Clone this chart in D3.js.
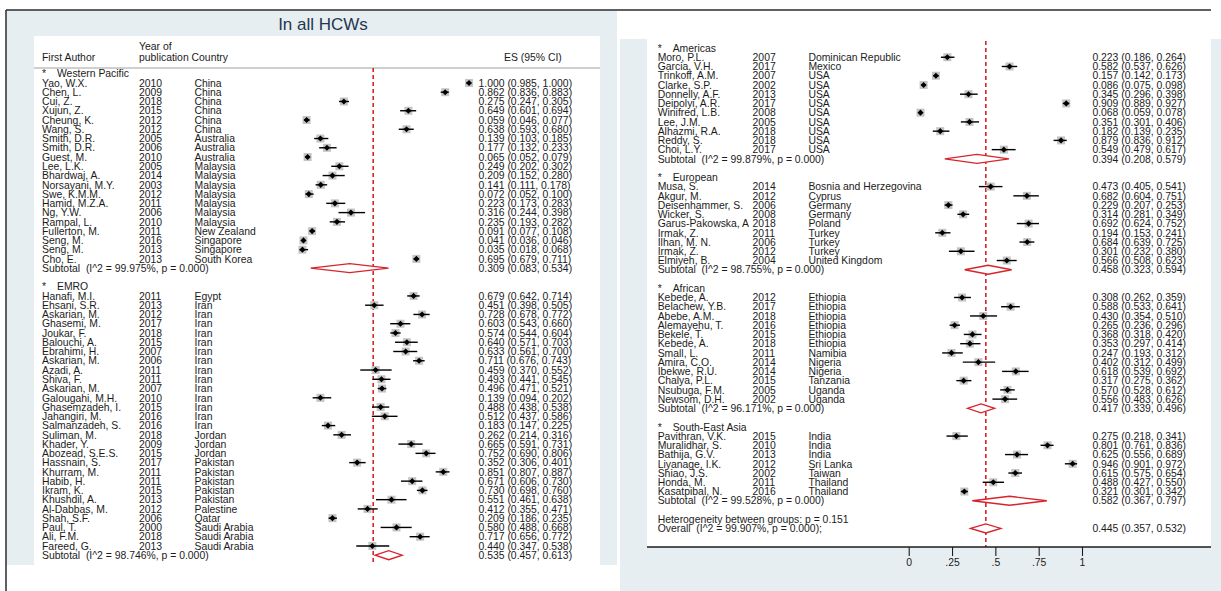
<!DOCTYPE html>
<html>
<head>
<meta charset="utf-8">
<script src="https://cdn.jsdelivr.net/npm/d3@7"></script>
<style>
body { margin: 0; background: #fff; }
svg { display: block; font-family: "Liberation Sans", Arial, sans-serif; }
text { white-space: pre; fill: #1b1b1b; }
</style>
</head>
<body>
<svg id="chart" width="1221" height="591"></svg>
<script>
// each study: [author, year, country, es, lower, upper]
const westernPacific = [
    ["Yao, W.X.", 2010, "China", 1.000, 0.985, 1.000],
    ["Chen, L.", 2009, "China", 0.862, 0.836, 0.883],
    ["Cui, Z.", 2018, "China", 0.275, 0.247, 0.305],
    ["Xujun, Z.", 2015, "China", 0.649, 0.601, 0.694],
    ["Cheung, K.", 2012, "China", 0.059, 0.046, 0.077],
    ["Wang, S.", 2012, "China", 0.638, 0.593, 0.680],
    ["Smith, D.R.", 2005, "Australia", 0.139, 0.103, 0.185],
    ["Smith, D.R.", 2006, "Australia", 0.177, 0.132, 0.233],
    ["Guest, M.", 2010, "Australia", 0.065, 0.052, 0.079],
    ["Lee, L.K.", 2005, "Malaysia", 0.249, 0.202, 0.302],
    ["Bhardwaj, A.", 2014, "Malaysia", 0.209, 0.152, 0.280],
    ["Norsayani, M.Y.", 2003, "Malaysia", 0.141, 0.111, 0.178],
    ["Swe, K.M.M.", 2012, "Malaysia", 0.072, 0.052, 0.100],
    ["Hamid, M.Z.A.", 2011, "Malaysia", 0.223, 0.173, 0.283],
    ["Ng, Y.W.", 2006, "Malaysia", 0.316, 0.244, 0.398],
    ["Rampal, L.", 2010, "Malaysia", 0.235, 0.193, 0.282],
    ["Fullerton, M.", 2011, "New Zealand", 0.091, 0.077, 0.108],
    ["Seng, M.", 2016, "Singapore", 0.041, 0.036, 0.046],
    ["Seng, M.", 2013, "Singapore", 0.035, 0.018, 0.068],
    ["Cho, E.", 2013, "South Korea", 0.695, 0.679, 0.711]
];
const emro = [
    ["Hanafi, M.I.", 2011, "Egypt", 0.679, 0.642, 0.714],
    ["Ehsani, S.R.", 2013, "Iran", 0.451, 0.398, 0.505],
    ["Askarian, M.", 2012, "Iran", 0.728, 0.678, 0.772],
    ["Ghasemi, M.", 2017, "Iran", 0.603, 0.543, 0.660],
    ["Joukar, F.", 2018, "Iran", 0.574, 0.544, 0.604],
    ["Balouchi, A.", 2015, "Iran", 0.640, 0.571, 0.703],
    ["Ebrahimi, H.", 2007, "Iran", 0.633, 0.561, 0.700],
    ["Askarian, M.", 2006, "Iran", 0.711, 0.676, 0.743],
    ["Azadi, A.", 2011, "Iran", 0.459, 0.370, 0.552],
    ["Shiva, F.", 2011, "Iran", 0.493, 0.441, 0.545],
    ["Askarian, M.", 2007, "Iran", 0.496, 0.471, 0.521],
    ["Galougahi, M.H.", 2010, "Iran", 0.139, 0.094, 0.202],
    ["Ghasemzadeh, I.", 2015, "Iran", 0.488, 0.438, 0.538],
    ["Jahangiri, M.", 2016, "Iran", 0.512, 0.437, 0.586],
    ["Salmanzadeh, S.", 2016, "Iran", 0.183, 0.147, 0.225],
    ["Suliman, M.", 2018, "Jordan", 0.262, 0.214, 0.316],
    ["Khader, Y.", 2009, "Jordan", 0.665, 0.591, 0.731],
    ["Abozead, S.E.S.", 2015, "Jordan", 0.752, 0.690, 0.806],
    ["Hassnain, S.", 2017, "Pakistan", 0.352, 0.306, 0.401],
    ["Khurram, M.", 2011, "Pakistan", 0.851, 0.807, 0.887],
    ["Habib, H.", 2011, "Pakistan", 0.671, 0.606, 0.730],
    ["Ikram, K.", 2015, "Pakistan", 0.730, 0.698, 0.760],
    ["Khushdil, A.", 2013, "Pakistan", 0.551, 0.461, 0.638],
    ["Al-Dabbas, M.", 2012, "Palestine", 0.412, 0.355, 0.471],
    ["Shah, S.F.", 2006, "Qatar", 0.209, 0.186, 0.235],
    ["Paul, T.", 2000, "Saudi Arabia", 0.580, 0.488, 0.668],
    ["Ali, F.M.", 2018, "Saudi Arabia", 0.717, 0.656, 0.772],
    ["Fareed, G.", 2013, "Saudi Arabia", 0.440, 0.347, 0.538]
];
const americas = [
    ["Moro, P.L.", 2007, "Dominican Republic", 0.223, 0.186, 0.264],
    ["Garcia, V.H.", 2017, "Mexico", 0.582, 0.537, 0.626],
    ["Trinkoff, A.M.", 2007, "USA", 0.157, 0.142, 0.173],
    ["Clarke, S.P.", 2002, "USA", 0.086, 0.075, 0.098],
    ["Donnelly, A.F.", 2013, "USA", 0.345, 0.296, 0.398],
    ["Deipolyi, A.R.", 2017, "USA", 0.909, 0.889, 0.927],
    ["Winifred, L.B.", 2008, "USA", 0.068, 0.059, 0.078],
    ["Lee, J.M.", 2005, "USA", 0.351, 0.301, 0.406],
    ["Alhazmi, R.A.", 2018, "USA", 0.182, 0.139, 0.235],
    ["Reddy, S.", 2018, "USA", 0.879, 0.836, 0.912],
    ["Choi, L.Y.", 2017, "USA", 0.549, 0.479, 0.617]
];
const european = [
    ["Musa, S.", 2014, "Bosnia and Herzegovina", 0.473, 0.405, 0.541],
    ["Akgur, M.", 2012, "Cyprus", 0.682, 0.604, 0.751],
    ["Deisenhammer, S.", 2006, "Germany", 0.229, 0.207, 0.253],
    ["Wicker, S.", 2008, "Germany", 0.314, 0.281, 0.349],
    ["Garus-Pakowska, A", 2018, "Poland", 0.692, 0.624, 0.752],
    ["Irmak, Z.", 2011, "Turkey", 0.194, 0.153, 0.241],
    ["Ilhan, M. N.", 2006, "Turkey", 0.684, 0.639, 0.725],
    ["Irmak, Z.", 2012, "Turkey", 0.301, 0.232, 0.380],
    ["Elmiyeh, B.", 2004, "United Kingdom", 0.566, 0.508, 0.623]
];
const african = [
    ["Kebede, A.", 2012, "Ethiopia", 0.308, 0.262, 0.359],
    ["Belachew, Y.B.", 2017, "Ethiopia", 0.588, 0.533, 0.641],
    ["Abebe, A.M.", 2018, "Ethiopia", 0.430, 0.354, 0.510],
    ["Alemayehu, T.", 2016, "Ethiopia", 0.265, 0.236, 0.296],
    ["Bekele, T.", 2015, "Ethiopia", 0.368, 0.318, 0.420],
    ["Kebede, A.", 2018, "Ethiopia", 0.353, 0.297, 0.414],
    ["Small, L.", 2011, "Namibia", 0.247, 0.193, 0.312],
    ["Amira, C.O.", 2014, "Nigeria", 0.402, 0.312, 0.499],
    ["Ibekwe, R.U.", 2014, "Nigeria", 0.618, 0.539, 0.692],
    ["Chalya, P.L.", 2015, "Tanzania", 0.317, 0.275, 0.362],
    ["Nsubuga, F.M.", 2005, "Uganda", 0.570, 0.528, 0.612],
    ["Newsom, D.H.", 2002, "Uganda", 0.556, 0.483, 0.626]
];
const southEastAsia = [
    ["Pavithran, V.K.", 2015, "India", 0.275, 0.218, 0.341],
    ["Muralidhar, S.", 2010, "India", 0.801, 0.761, 0.836],
    ["Bathija, G.V.", 2013, "India", 0.625, 0.556, 0.689],
    ["Liyanage, I.K.", 2012, "Sri Lanka", 0.946, 0.901, 0.972],
    ["Shiao, J.S.", 2002, "Taiwan", 0.615, 0.575, 0.654],
    ["Honda, M.", 2011, "Thailand", 0.488, 0.427, 0.550],
    ["Kasatpibal, N.", 2016, "Thailand", 0.321, 0.301, 0.342]
];

// subtotals: [group name, I^2, es, lower, upper]
const subtotals = [
    ["Western Pacific", "99.975%", 0.309, 0.083, 0.534],
    ["EMRO", "98.746%", 0.535, 0.457, 0.613],
    ["Americas", "99.879%", 0.394, 0.208, 0.579],
    ["European", "98.755%", 0.458, 0.323, 0.594],
    ["African", "96.171%", 0.417, 0.339, 0.496],
    ["South-East Asia", "99.528%", 0.582, 0.367, 0.797]
];
const overall = ["99.907%", 0.445, 0.357, 0.532];
const heterogeneityP = "0.151";

const tickValues = [0, 0.25, 0.5, 0.75, 1];
const tickLabels = ["0", ".25", ".5", ".75", "1"];

const f3 = d3.format(".3f");
const esText = (es, lo, hi) => `${f3(es)} (${f3(lo)}, ${f3(hi)})`;

// turn groups into row lists
const buildRows = (groups, withOverall) => {
    let rows = [];
    groups.forEach((g, gi) => {
        const sub = subtotals.find(s => s[0] === g.name);
        rows.push({type: "header", name: g.name});
        g.data.forEach(d => rows.push({type: "study", d: d}));
        rows.push({type: "subtotal", s: sub});
        if (gi < groups.length - 1 || withOverall) rows.push({type: "blank"});
    });
    if (withOverall) {
        rows.push({type: "het"});
        rows.push({type: "overall"});
    }
    return rows;
};

const leftRows = buildRows([
    {name: "Western Pacific", data: westernPacific},
    {name: "EMRO", data: emro}
], false);
const rightRows = buildRows([
    {name: "Americas", data: americas},
    {name: "European", data: european},
    {name: "African", data: african},
    {name: "South-East Asia", data: southEastAsia}
], true);

const svg = d3.select("#chart");
const bg = "#e7eef2";
const red = "#d8232a";
const fs = 10.4;

// backgrounds
svg.append("rect").attr("x", 6).attr("y", 10).attr("width", 611).attr("height", 555).attr("fill", bg);
svg.append("rect").attr("x", 34).attr("y", 36).attr("width", 566).attr("height", 529).attr("fill", "#fff");
svg.append("rect").attr("x", 620).attr("y", 39).attr("width", 601).attr("height", 552).attr("fill", bg);
svg.append("rect").attr("x", 647).attr("y", 39).attr("width", 564).attr("height", 508).attr("fill", "#fff");

// frame lines
svg.append("line").attr("x1", 6).attr("x2", 1211).attr("y1", 10).attr("y2", 10)
    .attr("stroke", "#2b2b2b").attr("stroke-width", 1.5);
svg.append("line").attr("x1", 6).attr("x2", 6).attr("y1", 10).attr("y2", 591)
    .attr("stroke", "#2b2b2b").attr("stroke-width", 1.5);

// title + headers of left panel
svg.append("text").attr("x", 323).attr("y", 30).attr("text-anchor", "middle")
    .style("font-size", "17px").style("fill", "#23364e").text("In all HCWs");
const hdr = [[42, 60.5, "First Author"], [139, 50, "Year of"], [139, 60.5, "publication Country"], [504, 60.5, "ES (95% CI)"]];
hdr.forEach(h => svg.append("text").attr("x", h[0]).attr("y", h[1]).style("font-size", fs + "px").text(h[2]));
svg.append("line").attr("x1", 34).attr("x2", 600).attr("y1", 68).attr("y2", 68)
    .attr("stroke", "#a0a0a0").attr("stroke-width", 1);

const drawPanel = (rows, lay) => {
    const x = d3.scaleLinear().domain([0, 1]).range(lay.xRange);
    const y = d3.scaleLinear().domain([0, rows.length - 1]).range(lay.yRange);
    const g = svg.append("g");

    // overall line
    g.append("line").attr("x1", x(overall[1])).attr("x2", x(overall[1]))
        .attr("y1", lay.lineTop).attr("y2", lay.lineBottom)
        .attr("stroke", red).attr("stroke-width", 1.6).attr("stroke-dasharray", "4,3");

    const txt = (xx, i, s) => g.append("text").attr("x", xx).attr("y", y(i) + 3.7)
        .style("font-size", fs + "px").text(s);

    rows.forEach((r, i) => {
        if (r.type === "header") {
            txt(lay.author, i, "*");
            txt(lay.author + 15, i, r.name);
        } else if (r.type === "study") {
            const d = r.d;
            txt(lay.author, i, d[0]);
            txt(lay.year, i, d[1]);
            txt(lay.country, i, d[2]);
            txt(lay.es, i, esText(d[3], d[4], d[5]));
            g.append("rect").attr("x", x(d[3]) - 4).attr("y", y(i) - 4)
                .attr("width", 8).attr("height", 8).attr("fill", "#c4c4c4");
            g.append("line").attr("x1", x(d[4])).attr("x2", x(d[5]))
                .attr("y1", y(i)).attr("y2", y(i))
                .attr("stroke", "#000").attr("stroke-width", 1.4);
            g.append("path").attr("transform", `translate(${x(d[3])},${y(i)})`)
                .attr("d", d3.symbol(d3.symbolDiamond2, 24)()).attr("fill", "#000");
        } else if (r.type === "subtotal" || r.type === "overall") {
            const s = r.type === "subtotal" ? r.s.slice(1) : overall;
            const lab = r.type === "subtotal" ? `Subtotal  (I^2 = ${s[0]}, p = 0.000)` : `Overall  (I^2 = ${s[0]}, p = 0.000);`;
            txt(lay.author, i, lab);
            txt(lay.es, i, esText(s[1], s[2], s[3]));
            const yc = y(i), h = 4.5;
            g.append("path")
                .attr("d", `M${x(s[2])},${yc}L${x(s[1])},${yc - h}L${x(s[3])},${yc}L${x(s[1])},${yc + h}Z`)
                .attr("fill", "#fff").attr("stroke", red).attr("stroke-width", 1.3);
        } else if (r.type === "het") {
            txt(lay.author, i, `Heterogeneity between groups: p = ${heterogeneityP}`);
        }
    });
    return x;
};

drawPanel(leftRows, {
    xRange: [296.4, 469], yRange: [73.7, 73.7 + 52 * 9.26],
    author: 42, year: 139, country: 194.5, es: 478.5,
    lineTop: 68, lineBottom: 565
});
const xR = drawPanel(rightRows, {
    xRange: [908.7, 1082], yRange: [48, 48 + 52 * 9.24],
    author: 657.7, year: 752.6, country: 808.4, es: 1092.4,
    lineTop: 41, lineBottom: 547
});

// x axis on the right panel
svg.append("line").attr("x1", 647).attr("x2", 1211).attr("y1", 547).attr("y2", 547)
    .attr("stroke", "#1b1b1b").attr("stroke-width", 1.5);
const axis = svg.append("g").attr("transform", "translate(0,547)")
    .call(d3.axisBottom(xR).tickValues(tickValues).tickFormat((d, i) => tickLabels[i])
        .tickSize(9).tickPadding(3));
axis.select(".domain").remove();
axis.selectAll("line").attr("stroke", "#1b1b1b").attr("stroke-width", 1.1);
axis.selectAll("text").style("font-size", "10.4px").style("font-family", "'Liberation Sans', Arial, sans-serif")
    .style("fill", "#1b1b1b");
</script>
</body>
</html>
